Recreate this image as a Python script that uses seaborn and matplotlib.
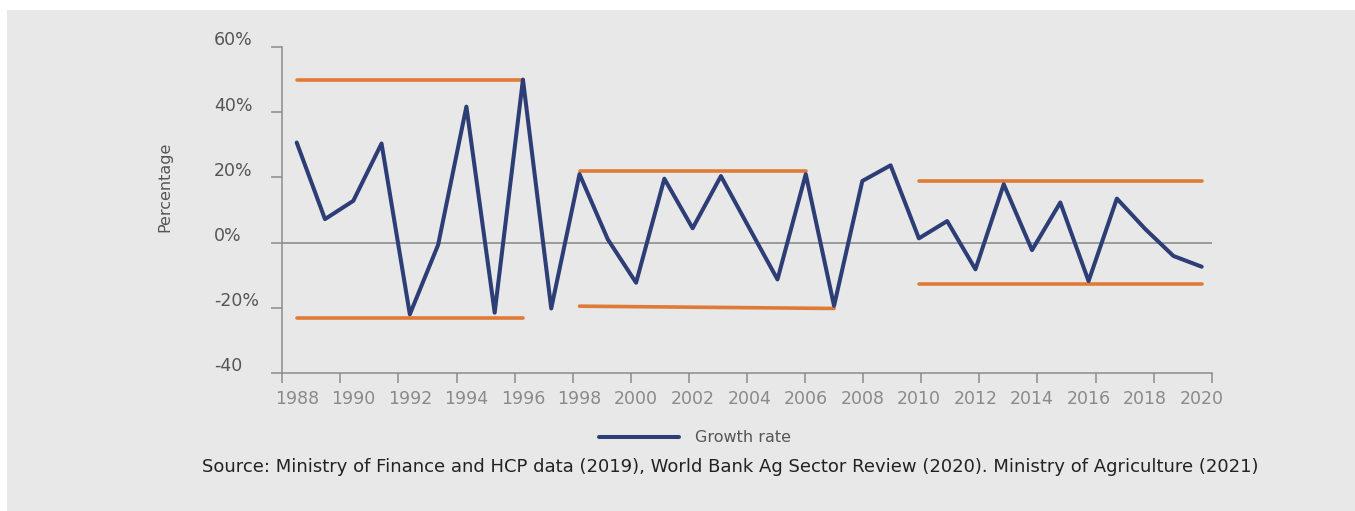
import numpy as np
import matplotlib
matplotlib.use("Agg")
import matplotlib.pyplot as plt
from matplotlib.patches import Rectangle
from matplotlib.transforms import blended_transform_factory
import seaborn as sns

# Dati
years = list(range(1988, 2021))
growth = [30.7, 7.2, 12.8, 30.4, -22.0, -0.7, 41.7, -21.5, 50.0, -20.2,
          21.0, 1.0, -12.3, 19.6, 4.4, 20.4, 4.5, -11.3, 21.0, -19.4,
          18.9, 23.7, 1.3, 6.6, -8.2, 17.9, -2.3, 12.3, -11.8, 13.5,
          4.2, -4.1, -7.4]

# Bande di volatilita' (arancio): anni di inizio/fine e valori
upper_years = [[1988, 1996], [1998, 2006], [2010, 2020]]
upper_vals = [[50.0, 50.0], [22.0, 22.0], [18.8, 18.8]]
lower_years = [[1988, 1996], [1998, 2007], [2010, 2020]]
lower_vals = [[-23.0, -23.0], [-19.5, -20.2], [-12.8, -12.8]]

ytick_vals = [60, 40, 20, 0, -20, -40]
ytick_labels = ["60%", "40%", "20%", "0%", "-20%", "-40"]
xtick_years = list(range(1988, 2021, 2))

BG = "#e7e8e7"
NAVY = "#2d3d75"
ORANGE = "#e27a37"
GREY = "#8c8c8c"

sns.set_theme(style="white")
plt.rcParams["font.family"] = ["DejaVu Sans"]

fig = plt.figure(figsize=(13.55, 5.11), dpi=100)
fig.patch.set_facecolor("white")
fig.patches.append(Rectangle((7 / 1355, 0), 1, 1 - 10 / 511, transform=fig.transFigure,
                             facecolor=BG, edgecolor="none", zorder=-10))

ax = fig.add_axes([282.3 / 1355, 1 - 373 / 511, 929.4 / 1355, 326 / 511])
ax.set_facecolor(BG)

# Linee arancioni
for xs, ys in zip(upper_years + lower_years, upper_vals + lower_vals):
    sns.lineplot(x=xs, y=ys, ax=ax, color=ORANGE, linewidth=2.6,
                 solid_capstyle="round", legend=False)

# Linea di crescita
sns.lineplot(x=years, y=growth, ax=ax, color=NAVY, linewidth=2.9,
             label="Growth rate", zorder=5)

ax.axhline(0, color="#858585", linewidth=1.1, zorder=1)

xmin = 1988 - 14.4 / 28.28
xmax = 2020 + 10 / 28.28
ax.set_xlim(xmin, xmax)
ax.set_ylim(-40, 60)

for s in ["top", "right"]:
    ax.spines[s].set_visible(False)
for s in ["left", "bottom"]:
    ax.spines[s].set_color(GREY)
    ax.spines[s].set_linewidth(1.1)

# Tick dell'asse x: etichette sugli anni, tacche equidistanti sull'asse
ax.set_xticks(xtick_years)
ax.set_xticklabels([str(y) for y in xtick_years], fontsize=12.5, color="#8a8a8a")
ax.tick_params(axis="x", which="major", bottom=True, length=0, pad=12)
ax.set_xticks(np.linspace(xmin, xmax, 17), minor=True)
ax.tick_params(axis="x", which="minor", bottom=True, length=7, width=1.1,
               color=GREY, direction="out")

# Tick dell'asse y: etichette allineate a sinistra
ax.set_yticks(ytick_vals)
ax.set_yticklabels([])
ax.tick_params(axis="y", left=True, length=8, width=1.1, color=GREY, direction="out")
trans = blended_transform_factory(ax.transAxes, ax.transData)
for v, lab in zip(ytick_vals, ytick_labels):
    ax.text((214 - 282.3) / 929.4, v + 2.0, lab, transform=trans, ha="left",
            va="center", fontsize=12.5, color="#555555")

ax.set_xlabel("")
ax.set_ylabel("Percentage", fontsize=11.5, color="#555555")
ax.yaxis.set_label_coords(-0.118, 0.571)

ax.legend(loc="center", bbox_to_anchor=(695 / 1355, 1 - 438 / 511),
          bbox_transform=fig.transFigure, frameon=False, fontsize=11.5,
          handlelength=5.0, handletextpad=1.0, labelcolor="#555555")

fig.text(730 / 1355, 1 - 467 / 511,
         "Source: Ministry of Finance and HCP data (2019), World Bank Ag Sector Review (2020). Ministry of Agriculture (2021)",
         ha="center", va="center", fontsize=13, color="#222222")

plt.savefig("out.png", dpi=100, facecolor=fig.get_facecolor())
plt.close()
